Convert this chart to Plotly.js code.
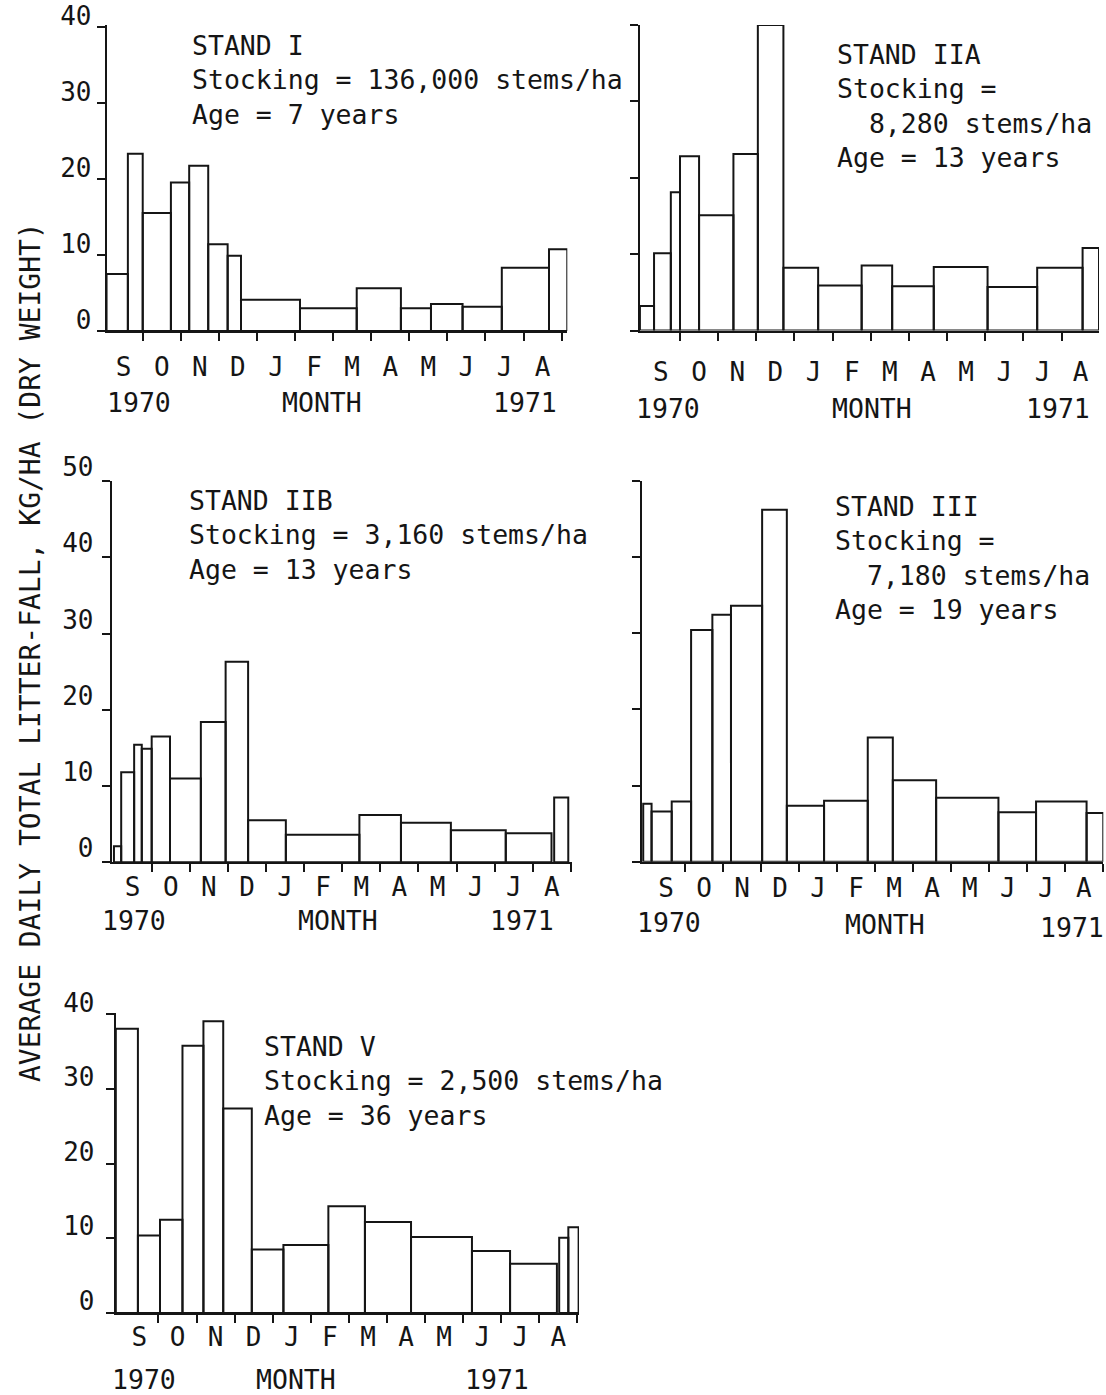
<!DOCTYPE html>
<html><head><meta charset="utf-8">
<script src="https://cdn.plot.ly/plotly-3.0.1.min.js"></script>
<style>html,body{margin:0;padding:0;background:#fff}</style>
</head><body><div id="chart" style="width:1106px;height:1395px"></div>
<script>
// ---- DATA (x in months after 1 Sep 1970; values kg/ha/day) ----
const monthLetters = ['S','O','N','D','J','F','M','A','M','J','J','A'];
const yTicks40 = [0,10,20,30,40];
const yTicks50 = [0,10,20,30,40,50];

const standI_start = [0.05,0.61,1.00,1.74,2.22,2.72,3.23,3.58,5.13,6.62,7.78,8.57,9.40,10.43,11.67];
const standI_end   = [0.61,1.00,1.74,2.22,2.72,3.23,3.58,5.13,6.62,7.78,8.57,9.40,10.43,11.67,12.15];
const standI_val   = [7.5,23.3,15.5,19.5,21.7,11.4,9.9,4.1,3.0,5.6,3.0,3.55,3.2,8.3,10.75];

const standIIA_start = [-0.05,0.32,0.76,1.00,1.50,2.40,3.04,3.71,4.62,5.76,6.56,7.65,9.06,10.36,11.55];
const standIIA_end   = [0.32,0.76,1.00,1.50,2.40,3.04,3.71,4.62,5.76,6.56,7.65,9.06,10.36,11.55,11.98];
const standIIA_val   = [3.2,10.1,18.1,22.8,15.1,23.1,40.0,8.2,5.9,8.5,5.8,8.3,5.7,8.2,10.8];

const standIIB_start = [0.01,0.20,0.54,0.74,1.00,1.48,2.29,2.94,3.53,4.52,6.45,7.54,8.85,10.29,11.56];
const standIIB_end   = [0.20,0.54,0.74,1.00,1.48,2.29,2.94,3.53,4.52,6.45,7.54,8.85,10.29,11.49,11.93];
const standIIB_val   = [2.1,11.8,15.4,14.9,16.5,11.0,18.4,26.3,5.5,3.6,6.2,5.2,4.2,3.8,8.5];

const standIII_start = [-0.10,0.12,0.65,1.16,1.72,2.21,3.03,3.68,4.66,5.81,6.47,7.61,9.25,10.24,11.57];
const standIII_end   = [0.12,0.65,1.16,1.72,2.21,3.03,3.68,4.66,5.81,6.47,7.61,9.25,10.24,11.57,12.01];
const standIII_val   = [7.6,6.6,7.9,30.4,32.4,33.6,46.2,7.35,8.0,16.3,10.7,8.4,6.5,7.9,6.4];

const standV_start = [-0.12,0.46,1.04,1.63,2.18,2.70,3.45,4.28,5.46,6.42,7.63,9.23,10.23,11.52,11.76];
const standV_end   = [0.46,1.04,1.63,2.18,2.70,3.45,4.28,5.46,6.42,7.63,9.23,10.23,11.46,11.76,12.03];
const standV_val   = [38.1,10.4,12.5,35.8,39.1,27.4,8.5,9.1,14.3,12.2,10.2,8.3,6.6,10.1,11.5];

const standLabels = [
  ['STAND I','Stocking = 136,000 stems/ha','Age = 7 years'],
  ['STAND IIA','Stocking =','\u00a0\u00a08,280 stems/ha','Age = 13 years'],
  ['STAND IIB','Stocking = 3,160 stems/ha','Age = 13 years'],
  ['STAND III','Stocking =','\u00a0\u00a07,180 stems/ha','Age = 19 years'],
  ['STAND V','Stocking = 2,500 stems/ha','Age = 36 years']
];
const yTitle = 'AVERAGE DAILY TOTAL LITTER-FALL, KG/HA (DRY WEIGHT)';

// ---- LAYOUT ----
const W = 1106, H = 1395;
const INK = '#151515';
const FONT = 'DejaVu Sans Mono, monospace';
const monthCentres = monthLetters.map((_, i) => i + 0.5);
const monthStarts = Array.from({length: 12}, (_, i) => i + 1);

const stands = [
  {s: standI_start, e: standI_end, v: standI_val},
  {s: standIIA_start, e: standIIA_end, v: standIIA_val},
  {s: standIIB_start, e: standIIB_end, v: standIIB_val},
  {s: standIII_start, e: standIII_end, v: standIII_val},
  {s: standV_start, e: standV_end, v: standV_val}
];

// panel geometry (pixels) and axis ranges
const panels = [
  {xp:[106.7,567.3], xr:[0.054,12.15], yp:[25,331],     yr:[0,40.2], yt:yTicks40, lab:true,  xso:12, yso:0, ysh:-11, text:[190,80],    years:[[139,403],[322,403],[525,403]]},
  {xp:[640,1099],    xr:[-0.048,11.98],yp:[25,330.5],   yr:[0,40.0], yt:yTicks40, lab:false, xso:17, yso:0, ysh:0,   text:[835,106],   years:[[668,409],[872,409],[1058,409]]},
  {xp:[111.7,571.7], xr:[-0.049,12.02],yp:[481,862.3],  yr:[0,50],   yt:yTicks50, lab:true,  xso:0,  yso:3, ysh:-14, text:[186.7,535], years:[[134,921],[338,921],[522,921]]},
  {xp:[642,1103.3],  xr:[-0.132,12.01],yp:[480.7,861.7],yr:[0,50],   yt:yTicks50, lab:false, xso:2,  yso:0, ysh:0,   text:[833.3,558], years:[[669,922],[885,924],[1072,927]]},
  {xp:[115.7,579],   xr:[-0.123,12.04],yp:[1013,1313],  yr:[0,40.2], yt:yTicks40, lab:true,  xso:0,  yso:6, ysh:-12, text:[261.7,1081],years:[[144,1379],[296,1379],[497,1379]]}
];

const traces = [];
const layout = {
  width: W, height: H,
  margin: {l:0, r:0, t:0, b:0},
  paper_bgcolor: '#ffffff', plot_bgcolor: 'rgba(0,0,0,0)',
  showlegend: false,
  barmode: 'overlay',
  font: {family: FONT, color: INK, size: 26},
  annotations: []
};

stands.forEach((st, i) => {
  const n = i + 1, xa = n === 1 ? 'x' : 'x' + n, ya = n === 1 ? 'y' : 'y' + n;
  traces.push({
    type: 'bar', x: st.s, y: st.v,
    width: st.s.map((a, k) => st.e[k] - a), offset: 0,
    xaxis: xa, yaxis: ya, cliponaxis: false, hoverinfo: 'skip',
    marker: {color: 'rgba(255,255,255,0)', line: {color: INK, width: 2}}
  });
  const p = panels[i];
  layout['xaxis' + (n === 1 ? '' : n)] = {
    domain: [p.xp[0] / W, p.xp[1] / W], range: p.xr, anchor: ya,
    showline: true, linecolor: INK, linewidth: 2, showgrid: false, zeroline: false,
    tickmode: 'array', tickvals: monthCentres, ticktext: monthLetters,
    ticks: '', ticklabelstandoff: p.xso,
    tickfont: {family: FONT, size: 26, color: INK},
    minor: {tickmode: 'array', tickvals: monthStarts, ticks: 'outside', ticklen: 8, tickwidth: 2, tickcolor: INK, showgrid: false},
    fixedrange: true
  };
  layout['yaxis' + (n === 1 ? '' : n)] = {
    domain: [1 - p.yp[1] / H, 1 - p.yp[0] / H], range: p.yr, anchor: xa,
    showline: true, linecolor: INK, linewidth: 2, showgrid: false, zeroline: false,
    tickmode: 'array', tickvals: p.yt, ticks: 'outside', ticklen: 8, tickwidth: 2, tickcolor: INK,
    showticklabels: p.lab, ticklabelshift: p.ysh, ticklabelstandoff: p.yso,
    tickfont: {family: FONT, size: 26, color: INK},
    fixedrange: true
  };
  layout.annotations.push({
    xref: 'paper', yref: 'paper', x: p.text[0] / W, y: 1 - p.text[1] / H,
    xanchor: 'left', yanchor: 'middle', align: 'left', showarrow: false,
    text: standLabels[i].join('<br>'), font: {family: FONT, size: 26.5, color: INK}
  });
  ['1970', 'MONTH', '1971'].forEach((t, k) => {
    layout.annotations.push({
      xref: 'paper', yref: 'paper', x: p.years[k][0] / W, y: 1 - p.years[k][1] / H,
      xanchor: 'center', yanchor: 'middle', showarrow: false,
      text: t, font: {family: FONT, size: 26.5, color: INK}
    });
  });
});

layout.annotations.push({
  xref: 'paper', yref: 'paper', x: 30 / W, y: 1 - 652 / H,
  xanchor: 'center', yanchor: 'middle', showarrow: false, textangle: -90,
  text: yTitle, font: {family: FONT, size: 28, color: INK}
});

Plotly.newPlot('chart', traces, layout, {staticPlot: true, displayModeBar: false});
</script></body></html>
